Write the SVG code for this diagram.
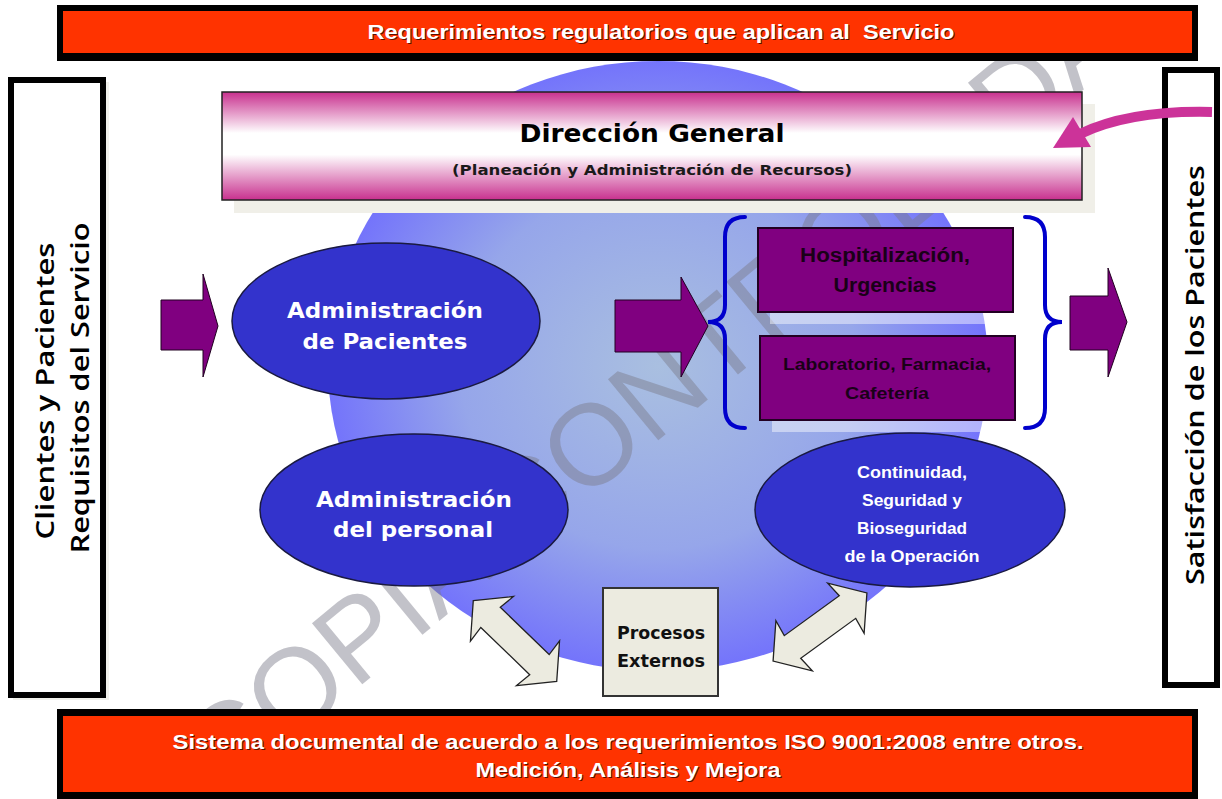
<svg xmlns="http://www.w3.org/2000/svg" width="1222" height="799" viewBox="0 0 1222 799">
<defs>
<radialGradient id="gCircle" cx="50%" cy="50%" r="50%">
<stop offset="0" stop-color="#a9bfe0"/>
<stop offset="0.6" stop-color="#96a6ea"/>
<stop offset="1" stop-color="#7474fb"/>
</radialGradient>
<linearGradient id="gDir" x1="0" y1="0" x2="0" y2="1">
<stop offset="0" stop-color="#c8308e"/>
<stop offset="0.38" stop-color="#ffffff"/>
<stop offset="0.58" stop-color="#ffffff"/>
<stop offset="1" stop-color="#c8308e"/>
</linearGradient>
<style>
.banner{fill:#ff3300}
.bk{fill:#000}
.btxt{font-family:"Liberation Sans",Arial,sans-serif;font-weight:bold;fill:#fff;text-anchor:middle}
.bsh{font-family:"Liberation Sans",Arial,sans-serif;font-weight:bold;fill:#5a1000;text-anchor:middle}
.side{fill:#fff;stroke:#000;stroke-width:6}
.sidetxt{font-family:"Open Sans","DejaVu Sans",sans-serif;font-weight:600;font-size:26px;fill:#000;text-anchor:middle}
.ell{fill:#3333cc;stroke:#1a1a40;stroke-width:1.5}
.etxt{font-family:"DejaVu Sans","Liberation Sans",sans-serif;font-weight:bold;fill:#fff;text-anchor:middle}
.etxt2{font-family:"Liberation Sans",Arial,sans-serif;font-weight:bold;fill:#fff;text-anchor:middle}
.pbox{fill:#800080;stroke:#220022;stroke-width:2}
.ptxt{font-family:"Liberation Sans",Arial,sans-serif;font-weight:bold;fill:#1a0018;text-anchor:middle}
.parrow{fill:#800080;stroke:#200020;stroke-width:1}
.brace{fill:none;stroke:#0000cc;stroke-width:4;stroke-linecap:round}
.darrow{fill:#ecebe0;stroke:#222;stroke-width:1.3;stroke-linejoin:miter}
.shadow{fill:#ffffff;opacity:0.45}
</style>
</defs>
<rect x="0" y="0" width="1222" height="799" fill="#fff"/>

<g id="circle">
<ellipse cx="658" cy="366" rx="330" ry="305" fill="url(#gCircle)"/>
</g>

<g id="watermark">
<text x="222" y="800" transform="rotate(-39.5 222 800)" font-family="Liberation Sans, sans-serif" font-size="115" fill="#7a7a88" opacity="0.45">COPIA CONTROLADA</text>
</g>

<g id="banner-top">
<rect class="bk" x="57" y="5" width="1141" height="56"/>
<rect class="banner" x="63" y="11" width="1129" height="42"/>
<text class="bsh" x="662" y="40" font-size="21" textLength="587" lengthAdjust="spacingAndGlyphs" xml:space="preserve">Requerimientos regulatorios que aplican al  Servicio</text>
<text class="btxt" x="661" y="39" font-size="21" textLength="587" lengthAdjust="spacingAndGlyphs" xml:space="preserve">Requerimientos regulatorios que aplican al  Servicio</text>
</g>

<g id="clientes">
<rect x="13" y="82" width="96" height="618" fill="#e8e8e0" opacity="0.6"/>
<rect class="side" x="11" y="80" width="92" height="615"/>
<text class="sidetxt" transform="translate(54,391) rotate(-90)" textLength="297" lengthAdjust="spacingAndGlyphs">Clientes y Pacientes</text>
<text class="sidetxt" transform="translate(89,388) rotate(-90)" textLength="331" lengthAdjust="spacingAndGlyphs">Requisitos del Servicio</text>
</g>

<g id="satisfaccion">
<rect class="side" x="1165" y="70" width="52" height="615"/>
<text class="sidetxt" transform="translate(1204,375) rotate(-90)" textLength="420" lengthAdjust="spacingAndGlyphs">Satisfacción de los Pacientes</text>
</g>

<g id="direccion">
<rect x="234" y="104" width="861" height="109" fill="#f0efe8"/>
<rect x="222" y="92" width="860" height="108" fill="url(#gDir)" stroke="#222" stroke-width="1.5"/>
<text x="652" y="142" font-family="DejaVu Sans, Liberation Sans, sans-serif" font-weight="bold" font-size="24" fill="#000" text-anchor="middle" textLength="265" lengthAdjust="spacingAndGlyphs">Dirección General</text>
<text x="652" y="175" font-family="DejaVu Sans, Liberation Sans, sans-serif" font-weight="bold" font-size="14" fill="#1a1a1a" text-anchor="middle" textLength="400" lengthAdjust="spacingAndGlyphs">(Planeación y Administración de Recursos)</text>
</g>

<g id="adm-pacientes">
<ellipse class="ell" cx="386" cy="321" rx="154" ry="78"/>
<text class="etxt" x="385" y="318" font-size="22" textLength="196" lengthAdjust="spacingAndGlyphs">Administración</text>
<text class="etxt" x="385" y="349" font-size="22" textLength="165" lengthAdjust="spacingAndGlyphs">de Pacientes</text>
</g>

<g id="adm-personal">
<ellipse class="ell" cx="414" cy="510" rx="154" ry="76"/>
<text class="etxt" x="414" y="507" font-size="22" textLength="196" lengthAdjust="spacingAndGlyphs">Administración</text>
<text class="etxt" x="413" y="537" font-size="22" textLength="160" lengthAdjust="spacingAndGlyphs">del personal</text>
</g>

<g id="hospitalizacion">
<rect class="shadow" x="770" y="240" width="256" height="84"/>
<rect class="pbox" x="758" y="228" width="255" height="84"/>
<text class="ptxt" x="885" y="262" font-size="20" textLength="170" lengthAdjust="spacingAndGlyphs">Hospitalización,</text>
<text class="ptxt" x="885" y="292" font-size="20" textLength="103" lengthAdjust="spacingAndGlyphs">Urgencias</text>
</g>

<g id="laboratorio">
<rect class="shadow" x="772" y="348" width="256" height="84"/>
<rect class="pbox" x="760" y="336" width="255" height="84"/>
<text class="ptxt" x="887" y="370" font-size="17" textLength="208" lengthAdjust="spacingAndGlyphs">Laboratorio, Farmacia,</text>
<text class="ptxt" x="887" y="399" font-size="17" textLength="84" lengthAdjust="spacingAndGlyphs">Cafetería</text>
</g>

<g id="continuidad">
<ellipse class="ell" cx="910" cy="510" rx="155" ry="77"/>
<text class="etxt2" x="912" y="478" font-size="17" textLength="110" lengthAdjust="spacingAndGlyphs">Continuidad,</text>
<text class="etxt2" x="912" y="506" font-size="17" textLength="100" lengthAdjust="spacingAndGlyphs">Seguridad y</text>
<text class="etxt2" x="912" y="534" font-size="17" textLength="110" lengthAdjust="spacingAndGlyphs">Bioseguridad</text>
<text class="etxt2" x="912" y="562" font-size="17" textLength="135" lengthAdjust="spacingAndGlyphs">de la Operación</text>
</g>

<g id="procesos-externos">
<rect x="603" y="588" width="115" height="108" fill="#ecebe0" stroke="#333" stroke-width="2"/>
<text x="661" y="639" font-family="DejaVu Sans, Liberation Sans, sans-serif" font-weight="bold" font-size="17" fill="#111" text-anchor="middle" textLength="88" lengthAdjust="spacingAndGlyphs">Procesos</text>
<text x="661" y="667" font-family="DejaVu Sans, Liberation Sans, sans-serif" font-weight="bold" font-size="17" fill="#111" text-anchor="middle" textLength="88" lengthAdjust="spacingAndGlyphs">Externos</text>
</g>

<g id="banner-bottom">
<rect class="bk" x="57" y="709" width="1141" height="90"/>
<rect class="banner" x="63" y="716" width="1129" height="76"/>
<text class="bsh" x="629" y="750" font-size="21" textLength="911" lengthAdjust="spacingAndGlyphs">Sistema documental de acuerdo a los requerimientos ISO 9001:2008 entre otros.</text>
<text class="btxt" x="628" y="749" font-size="21" textLength="911" lengthAdjust="spacingAndGlyphs">Sistema documental de acuerdo a los requerimientos ISO 9001:2008 entre otros.</text>
<text class="bsh" x="629" y="778" font-size="21" textLength="305" lengthAdjust="spacingAndGlyphs">Medición, Análisis y Mejora</text>
<text class="btxt" x="628" y="777" font-size="21" textLength="305" lengthAdjust="spacingAndGlyphs">Medición, Análisis y Mejora</text>
</g>

<g id="connectors">
<polygon class="parrow" points="161,300 203,300 203,274 218,326 203,377 203,350 161,350"/>
<polygon class="parrow" points="615,300 681,300 681,277 708,326 681,377 681,352 615,352"/>
<polygon class="parrow" points="1070,296 1108,296 1108,268 1127,322 1108,377 1108,350 1070,350"/>
<path class="brace" d="M745,217 Q725,217 725,237 L725,305 Q725,322 708,322 Q725,322 725,339 L725,408 Q725,428 745,428"/>
<path class="brace" d="M1025,217 Q1045,217 1045,237 L1045,305 Q1045,322 1062,322 Q1045,322 1045,339 L1045,408 Q1045,428 1025,428"/>
<path d="M1212,112 Q1130,110 1080,134" fill="none" stroke="#cc3399" stroke-width="10"/>
<polygon points="1053,148 1073,117 1091,147" fill="#cc3399"/>
<polygon class="darrow" transform="translate(515,641) rotate(44)" points="-58,0 -32,-31 -34,-14 34,-14 32,-31 58,0 32,31 34,14 -34,14 -32,31"/>
<polygon class="darrow" transform="translate(820,627) rotate(-36)" points="-58,0 -32,-31 -34,-14 34,-14 32,-31 58,0 32,31 34,14 -34,14 -32,31"/>
</g>
</svg>
